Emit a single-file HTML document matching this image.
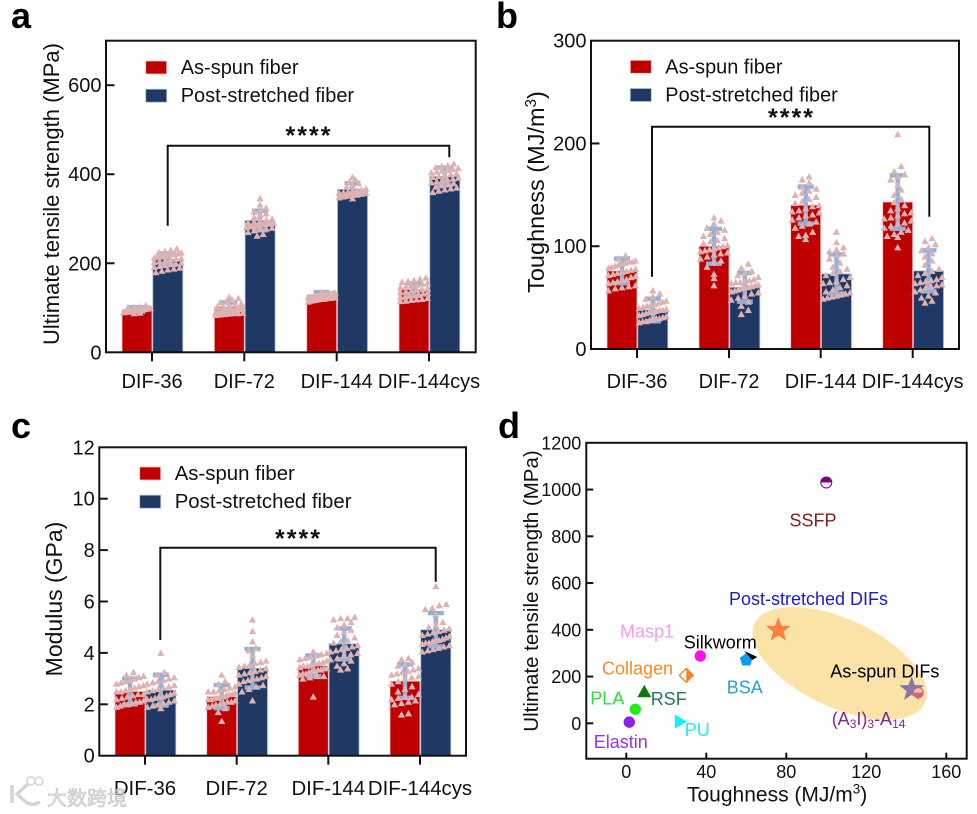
<!DOCTYPE html>
<html lang="en">
<head>
<meta charset="utf-8">
<title>Fiber mechanical properties</title>
<style>
html,body{margin:0;padding:0;background:#fff;}
svg{display:block;font-family:"Liberation Sans","Noto Sans CJK SC",sans-serif;}
</style>
</head>
<body>
<svg id="figure" width="977" height="814" viewBox="0 0 977 814" xmlns="http://www.w3.org/2000/svg"></svg>
<script>
// Shared categories and legend
const categories = ['DIF-36', 'DIF-72', 'DIF-144', 'DIF-144cys'];
const seriesNames = ['As-spun fiber', 'Post-stretched fiber'];

// Panel a: ultimate tensile strength (MPa)
const strengthTicks = [0, 200, 400, 600];
const strengthAsSpun = [96, 102, 129, 141];
const strengthPost = [209, 296, 366, 395];
const strengthAsSpunErr = [5, 10, 6, 14];
const strengthPostErr = [13, 22, 14, 20];
const strengthAsSpunPoints = [
  [88,89,90,90,91,91,92,92,93,93,93,94,94,95,95,95,96,96,96,97,97,98,98,99,99,100,101,102,103,106],
  [84,85,86,87,88,88,89,90,90,91,92,93,93,94,95,95,96,97,98,100,102,104,106,108,110,112,115,118,122,124],
  [114,116,117,118,119,120,120,121,122,122,123,123,124,124,125,125,126,126,127,127,128,128,129,130,130,131,132,133,134,136],
  [115,116,118,119,120,122,124,125,127,128,130,132,134,135,137,139,140,142,144,146,148,150,152,154,156,158,160,162,165,168]
];
const strengthPostPoints = [
  [180,183,186,188,190,192,194,196,198,199,201,203,205,206,208,210,212,213,215,216,218,219,220,221,222,224,225,227,230,233],
  [262,266,270,274,276,278,280,281,283,284,285,286,287,288,289,290,291,292,294,296,298,300,304,308,312,316,320,325,332,346],
  [346,348,350,350,351,352,352,353,354,354,355,355,356,356,357,358,358,359,360,361,362,364,366,368,372,376,380,384,388,394],
  [360,363,366,368,370,372,375,378,380,382,384,386,388,390,392,394,396,398,400,402,404,406,408,410,412,414,416,418,420,424]
];

// Panel b: toughness (MJ/m3)
const toughnessTicks = [0, 100, 200, 300];
const toughnessAsSpun = [76, 100, 140, 143];
const toughnessPost = [38, 60, 73, 76];
const toughnessAsSpunErr = [12, 17, 18, 26];
const toughnessPostErr = [11, 14, 19, 20];
const toughnessAsSpunPoints = [
  [57,59,60,61,62,64,65,66,67,68,70,71,72,73,74,75,76,77,78,79,80,81,82,83,84,85,85,86,88,91],
  [62,69,73,80,84,86,88,90,92,93,94,95,96,97,98,99,100,101,103,105,106,108,110,112,114,116,118,122,125,128],
  [107,110,111,114,118,120,122,124,126,128,130,131,133,134,135,137,139,140,142,144,146,148,150,152,154,156,158,162,165,168],
  [99,109,110,112,114,116,118,120,122,123,125,127,128,130,132,133,135,137,140,143,146,150,155,160,165,168,170,173,178,209]
];
const toughnessPostPoints = [
  [26,27,27,28,29,30,30,31,32,33,34,35,36,36,37,38,38,39,40,41,42,43,44,45,46,47,49,51,54,57],
  [34,38,42,46,48,50,52,54,55,56,57,58,59,60,60,61,62,63,64,65,65,66,67,68,70,72,74,76,79,83],
  [49,50,51,52,53,54,55,56,58,60,62,64,65,66,68,70,72,74,76,78,80,84,88,91,93,95,97,99,104,114],
  [45,47,50,52,55,56,58,60,61,62,63,64,65,66,67,68,70,72,74,76,78,82,86,90,93,96,99,102,105,108]
];

// Panel c: modulus (GPa)
const modulusTicks = [0, 2, 4, 6, 8, 10, 12];
const modulusAsSpun = [2.5, 2.3, 3.5, 2.9];
const modulusPost = [2.55, 3.4, 4.35, 4.9];
const modulusAsSpunErr = [0.5, 0.45, 0.4, 0.65];
const modulusPostErr = [0.6, 0.75, 0.6, 0.65];
const modulusAsSpunPoints = [
  [1.9,1.95,2,2,2.05,2.1,2.1,2.15,2.2,2.25,2.3,2.35,2.4,2.4,2.5,2.5,2.55,2.6,2.65,2.7,2.75,2.8,2.85,2.9,2.95,3,3.05,3.1,3.15,3.25],
  [1.35,1.7,1.85,1.9,1.95,2,2,2.05,2.1,2.1,2.15,2.2,2.2,2.25,2.25,2.3,2.3,2.35,2.4,2.4,2.45,2.5,2.5,2.55,2.6,2.65,2.7,2.8,2.9,3.15],
  [2.3,3,3.05,3.1,3.1,3.15,3.2,3.2,3.25,3.3,3.3,3.35,3.35,3.4,3.4,3.45,3.5,3.5,3.55,3.6,3.6,3.65,3.7,3.75,3.8,3.85,3.9,3.95,4,4.05],
  [1.6,1.65,2,2.05,2.1,2.15,2.2,2.25,2.3,2.3,2.4,2.5,2.6,2.7,2.8,2.9,3,3.05,3.1,3.15,3.2,3.25,3.3,3.35,3.4,3.5,3.55,3.65,3.75,3.8]
];
const modulusPostPoints = [
  [1.85,1.9,1.95,2,2.05,2.1,2.15,2.2,2.2,2.25,2.3,2.3,2.35,2.4,2.45,2.5,2.55,2.6,2.65,2.7,2.75,2.8,2.85,2.9,2.95,3,3.05,3.15,3.25,4],
  [2.15,2.5,2.6,2.7,2.75,2.8,2.9,2.95,3,3,3.05,3.1,3.15,3.2,3.25,3.3,3.35,3.4,3.45,3.5,3.55,3.6,3.65,3.7,3.9,4.1,4.2,4.45,4.85,5.3],
  [3.35,3.4,3.5,3.6,3.7,3.75,3.8,3.9,3.95,4,4.05,4.1,4.15,4.2,4.25,4.3,4.4,4.45,4.5,4.6,4.7,4.8,4.9,5,5.1,5.2,5.3,5.35,5.35,5.4],
  [4.05,4.1,4.15,4.2,4.25,4.3,4.35,4.4,4.4,4.45,4.5,4.5,4.55,4.6,4.65,4.7,4.75,4.8,4.85,4.9,4.95,5,5.1,5.2,5.5,5.7,5.75,5.85,5.9,6.6]
];

// Panel d: strength vs toughness of materials
const materialNames = ['SSFP', 'As-spun DIFs', 'Post-stretched DIFs', 'A3I3-A14', 'Masp1', 'Collagen', 'BSA', 'Silkworm', 'RSF', 'PLA', 'Elastin', 'PU'];
const materialToughness = [100, 142.7, 76, 146, 37, 30, 60, 62, 9, 4.5, 1.5, 27];
const materialStrength = [1030, 145, 399, 131, 288, 205, 271, 288, 135, 60, 5, 7];
const scatterXTicks = [0, 40, 80, 120, 160];
const scatterYTicks = [0, 200, 400, 600, 800, 1000, 1200];

const NS = 'http://www.w3.org/2000/svg';
const root = document.getElementById('figure');

function mk(tag, parent, props) {
  const el = document.createElementNS(NS, tag);
  for (const k in props) el.setAttribute(k, props[k]);
  parent.appendChild(el);
  return el;
}

function label(parent, str, x, y, size, props) {
  const el = mk('text', parent, Object.assign({x: x, y: y, 'font-size': size, fill: '#111'}, props || {}));
  el.textContent = str;
  return el;
}

function triangle(cx, cy, s) {
  return 'M' + (cx - s).toFixed(2) + ' ' + (cy + s * 0.85).toFixed(2) +
    'L' + cx.toFixed(2) + ' ' + (cy - s * 0.95).toFixed(2) +
    'L' + (cx + s).toFixed(2) + ' ' + (cy + s * 0.85).toFixed(2) + 'Z';
}

// Prism-style swarm: points are grouped in pixel rows and spread symmetrically
function swarmOffsets(pixelYs, halfWidth, rowH, maxStep) {
  const rows = {};
  pixelYs.forEach(function (py, i) {
    const r = Math.round(py / rowH);
    (rows[r] = rows[r] || []).push(i);
  });
  const out = new Array(pixelYs.length).fill(0);
  Object.keys(rows).forEach(function (r) {
    const list = rows[r];
    const step = Math.min(maxStep, list.length > 1 ? (2 * halfWidth) / (list.length - 1) : 0);
    list.forEach(function (idx, j) {
      out[idx] = (j - (list.length - 1) / 2) * step;
    });
  });
  return out;
}

function drawBarPanel(cfg) {
  const g = mk('g', root, {});
  
  
  const sy = function (v) { return cfg.bottom - (v / cfg.yMax) * (cfg.bottom - cfg.top); };
  const barW = 30;

  const series = [
    {values: cfg.asSpun, err: cfg.asSpunErr, pts: cfg.asSpunPts, fill: '#BF0000', edge: '#F6C9C9', x0: -barW, key: 'as-spun'},
    {values: cfg.post, err: cfg.postErr, pts: cfg.postPts, fill: '#1F3864', edge: '#A9BEDD', x0: 0.8, key: 'post-stretched'}
  ];

  series.forEach(function (s) {
    s.values.forEach(function (v, i) {
      const bar = mk('rect', g, {x: cfg.groups[i] + s.x0, y: sy(v), width: barW, height: cfg.bottom - sy(v), fill: s.fill, stroke: s.edge, 'stroke-width': 0.8});
      
      
    });
  });

  series.forEach(function (s) {
    s.values.forEach(function (v, i) {
      const cx = cfg.groups[i] + s.x0 + barW / 2;
      const e = mk('path', g, {
        d: 'M' + cx + ' ' + sy(v + s.err[i]) + 'V' + sy(v - s.err[i]) +
           'M' + (cx - 8) + ' ' + sy(v + s.err[i]) + 'H' + (cx + 8) +
           'M' + (cx - 8) + ' ' + sy(v - s.err[i]) + 'H' + (cx + 8),
        fill: 'none', stroke: '#8FB0DC', 'stroke-width': 4.4
      });
      
      

      const ys = s.pts[i].map(sy);
      const offs = swarmOffsets(ys, 13.5, cfg.rowH, cfg.maxStep);
      let d = '';
      ys.forEach(function (py, k) { d += triangle(cx + offs[k], py, 3.6); });
      const p = mk('path', g, {d: d, fill: '#DDB2B2'});
      
      
    });
  });

  const frame = mk('rect', g, {x: cfg.left, y: cfg.top, width: cfg.right - cfg.left, height: cfg.bottom - cfg.top, fill: 'none', stroke: '#111', 'stroke-width': 2});
  
  

  cfg.ticks.forEach(function (t) {
    const y = sy(t);
    if (t !== cfg.yMax && t !== 0) {
      const tick = mk('line', g, {x1: cfg.left, x2: cfg.left + 8.5, y1: y, y2: y, stroke: '#111', 'stroke-width': 2});
      
      
    }
    const tl = label(g, String(t), cfg.left - 4.5, y + 7, cfg.tickSize, {'text-anchor': 'end'});
    
    
  });

  categories.forEach(function (c, i) {
    const tick = mk('line', g, {x1: cfg.groups[i], x2: cfg.groups[i], y1: cfg.bottom, y2: cfg.bottom + 9, stroke: '#111', 'stroke-width': 2});
    
    
    const tl = label(g, c, cfg.groups[i], cfg.xLabelY, cfg.textSize, {'text-anchor': 'middle'});
    
    
  });

  const title = label(g, cfg.titleText, 0, 0, cfg.titleSize, {'text-anchor': 'middle', transform: 'translate(' + cfg.titleX + ' ' + cfg.titleY + ') rotate(-90)'});
  
  
  if (cfg.titleSup) {
    const sup = mk('tspan', title, {dy: -8, 'font-size': cfg.titleSize * 0.65});
    sup.textContent = cfg.titleSup;
    const close = mk('tspan', title, {dy: 8});
    close.textContent = ')';
  }

  seriesNames.forEach(function (n, i) {
    const sw = mk('rect', g, {x: cfg.legendX, y: cfg.legendY + i * 28.2, width: 21, height: 13, fill: series[i].fill, stroke: series[i].edge, 'stroke-width': 0.8});
    
    
    const lt = label(g, n, cfg.legendX + 35, cfg.legendY + 13 + i * 28.2, cfg.textSize);
    
    
  });

  const b = cfg.bracket;
  const br = mk('path', g, {d: 'M' + b.x1 + ' ' + b.y1 + 'V' + b.top + 'H' + b.x2 + 'V' + b.y2, fill: 'none', stroke: '#111', 'stroke-width': 2});
  
  
  const st = label(g, '****', b.starX, b.starY, 25, {'text-anchor': 'middle', 'font-weight': 'bold', 'letter-spacing': 2});
  
  

  const pl = label(g, cfg.letter, cfg.letterX, cfg.letterY, 36, {'font-weight': 'bold', fill: '#000'});
  
  
}

drawBarPanel({
  name: 'panel-a', letter: 'a', letterX: 11, letterY: 28,
  left: 106, right: 475.7, top: 40.7, bottom: 352.3, yMax: 700,
  groups: [152, 244.3, 336.7, 429], ticks: strengthTicks, tickSize: 20, textSize: 20, xLabelY: 388,
  rowH: 5, maxStep: 6,
  asSpun: strengthAsSpun, post: strengthPost, asSpunErr: strengthAsSpunErr, postErr: strengthPostErr,
  asSpunPts: strengthAsSpunPoints, postPts: strengthPostPoints,
  titleText: 'Ultimate tensile strength (MPa)', titleSize: 22, titleX: 59, titleY: 194,
  legendX: 145.7, legendY: 61,
  bracket: {x1: 167.7, x2: 449.3, top: 145.7, y1: 225.7, y2: 157.3, starX: 309, starY: 144}
});

drawBarPanel({
  name: 'panel-b', letter: 'b', letterX: 496, letterY: 28,
  left: 591, right: 959, top: 40.7, bottom: 349, yMax: 300,
  groups: [637, 729, 820.7, 912.7], ticks: toughnessTicks, tickSize: 20, textSize: 19.9, xLabelY: 388,
  rowH: 8, maxStep: 7,
  asSpun: toughnessAsSpun, post: toughnessPost, asSpunErr: toughnessAsSpunErr, postErr: toughnessPostErr,
  asSpunPts: toughnessAsSpunPoints, postPts: toughnessPostPoints,
  titleText: 'Toughness (MJ/m', titleSup: '3', titleSize: 23.5, titleX: 544, titleY: 192,
  legendX: 630.3, legendY: 60.3,
  bracket: {x1: 652, x2: 929.3, top: 126.7, y1: 276.7, y2: 216.7, starX: 791.5, starY: 126}
});

drawBarPanel({
  name: 'panel-c', letter: 'c', letterX: 11, letterY: 438,
  left: 99.3, right: 466, top: 447.3, bottom: 755.7, yMax: 12,
  groups: [145, 236.7, 328.3, 420], ticks: modulusTicks, tickSize: 20, textSize: 20.4, xLabelY: 795,
  rowH: 8, maxStep: 7,
  asSpun: modulusAsSpun, post: modulusPost, asSpunErr: modulusAsSpunErr, postErr: modulusPostErr,
  asSpunPts: modulusAsSpunPoints, postPts: modulusPostPoints,
  titleText: 'Modulus (GPa)', titleSize: 23, titleX: 62, titleY: 599,
  legendX: 139.7, legendY: 467,
  bracket: {x1: 160.3, x2: 435.7, top: 547.7, y1: 640, y2: 581.7, starX: 298.5, starY: 547}
});

// Panel d
(function () {
  const L = 586.3, R = 966.7, T = 442.8, B = 758.7;
  const sx = function (v) { return 626.3 + v * 2; };
  const sy = function (v) { return 723.3 - v * 0.23375; };
  const g = mk('g', root, {});
  
  

  const ell = mk('ellipse', g, {cx: 839.7, cy: 663.3, rx: 94, ry: 44, fill: '#FBE2A6', transform: 'rotate(25 839.7 663.3)'});
  
  

  const frame = mk('rect', g, {x: L, y: T, width: R - L, height: B - T, fill: 'none', stroke: '#111', 'stroke-width': 2});
  
  

  scatterYTicks.forEach(function (t) {
    const y = sy(t);
    if (t !== 1200) {
      const tick = mk('line', g, {x1: L, x2: L + 7, y1: y, y2: y, stroke: '#111', 'stroke-width': 2});
      
      
    }
    const tl = label(g, String(t), L - 5, y + 6.5, 18, {'text-anchor': 'end'});
    
    
  });
  scatterXTicks.forEach(function (t) {
    const x = sx(t);
    const tick = mk('line', g, {x1: x, x2: x, y1: B, y2: B - 6, stroke: '#111', 'stroke-width': 2});
    
    
    const tl = label(g, String(t), x, 778, 18, {'text-anchor': 'middle'});
    
    
  });

  function star(cx, cy, r) {
    let d = '';
    for (let i = 0; i < 10; i++) {
      const rad = i % 2 ? r * 0.42 : r;
      const a = -Math.PI / 2 + i * Math.PI / 5;
      d += (i ? 'L' : 'M') + (cx + rad * Math.cos(a)).toFixed(2) + ' ' + (cy + rad * Math.sin(a)).toFixed(2);
    }
    return d + 'Z';
  }

  materialNames.forEach(function (name, i) {
    const x = sx(materialToughness[i]);
    const y = sy(materialStrength[i]);
    const m = mk('g', g, {});
    
    
    if (name === 'SSFP') {
      mk('circle', m, {cx: x, cy: y, r: 5.5, fill: '#fff', stroke: '#800080', 'stroke-width': 1});
      mk('path', m, {d: 'M' + (x - 5.5) + ' ' + y + 'A5.5 5.5 0 0 1 ' + (x + 5.5) + ' ' + y + 'Z', fill: '#800080'});
    } else if (name === 'A3I3-A14') {
      mk('circle', m, {cx: x, cy: y, r: 5, fill: '#F2C0B0', stroke: '#D8607A', 'stroke-width': 1});
      mk('path', m, {d: 'M' + (x - 5) + ' ' + y + 'A5 5 0 0 0 ' + (x + 5) + ' ' + y + 'Z', fill: '#D8607A'});
    } else if (name === 'As-spun DIFs') {
      mk('path', m, {d: star(x, y, 13), fill: '#8578A8'});
    } else if (name === 'Post-stretched DIFs') {
      mk('path', m, {d: star(x, y, 13), fill: '#FF7F3F'});
    } else if (name === 'Masp1') {
      mk('circle', m, {cx: x, cy: y, r: 5.7, fill: '#FF10E8'});
    } else if (name === 'PLA') {
      mk('circle', m, {cx: x, cy: y, r: 5.7, fill: '#19F019'});
    } else if (name === 'Elastin') {
      mk('circle', m, {cx: x, cy: y, r: 5.7, fill: '#8A22EE'});
    } else if (name === 'Collagen') {
      mk('path', m, {d: 'M' + x + ' ' + (y - 7) + 'L' + (x + 7) + ' ' + y + 'L' + x + ' ' + (y + 7) + 'L' + (x - 7) + ' ' + y + 'Z', fill: '#fff', stroke: '#F58220', 'stroke-width': 1.3});
      mk('path', m, {d: 'M' + x + ' ' + (y - 7) + 'L' + (x + 7) + ' ' + y + 'L' + x + ' ' + (y + 7) + 'Z', fill: '#F58220'});
    } else if (name === 'BSA') {
      const pts = [];
      for (let k = 0; k < 5; k++) {
        const a = -Math.PI / 2 + k * 2 * Math.PI / 5;
        pts.push((x + 6.8 * Math.cos(a)).toFixed(2) + ',' + (y + 6.8 * Math.sin(a)).toFixed(2));
      }
      mk('polygon', m, {points: pts.join(' '), fill: '#0A9BF2'});
    } else if (name === 'Silkworm') {
      mk('path', m, {d: 'M' + (x - 6) + ' ' + (y - 5) + 'L' + (x + 7) + ' ' + (y + 1) + 'L' + (x + 2) + ' ' + (y + 4) + 'Z', fill: '#000'});
    } else if (name === 'RSF') {
      mk('path', m, {d: 'M' + (x - 7) + ' ' + (y + 5.5) + 'L' + x + ' ' + (y - 7) + 'L' + (x + 7) + ' ' + (y + 5.5) + 'Z', fill: '#0B7A12'});
    } else if (name === 'PU') {
      mk('path', m, {d: 'M' + (x - 5.5) + ' ' + (y - 7) + 'L' + (x + 7) + ' ' + y + 'L' + (x - 5.5) + ' ' + (y + 7) + 'Z', fill: '#10F0F8'});
    }
  });

  function tag(text, x, y, color) {
    const t = label(g, text, x, y, 18, {fill: color});
    
    
    return t;
  }
  tag('Post-stretched DIFs', 729, 605, '#1A1AD0');
  tag('SSFP', 789.5, 526.7, '#8B1A1A');
  tag('Masp1', 620, 637.7, '#F59BF0');
  tag('Silkworm', 683.7, 648.7, '#000');
  tag('Collagen', 602, 674.3, '#F58A2A');
  tag('PLA', 590.3, 704.3, '#2EE03A');
  tag('RSF', 650.7, 705, '#1F7A5C');
  tag('BSA', 726.7, 693.3, '#2A9FE0');
  tag('PU', 684.7, 736, '#22E8F0');
  tag('Elastin', 593.7, 748, '#9A30E8');
  tag('As-spun DIFs', 830.3, 677.7, '#000');

  const peptide = label(g, '(A', 831.7, 725, 18, {fill: '#7A2A90'});
  
  
  [['3', 3], ['I)', -3], ['3', 3], ['-A', -3], ['14', 3]].forEach(function (part) {
    const ts = mk('tspan', peptide, {dy: part[1], 'font-size': part[1] > 0 ? 12 : 18});
    ts.textContent = part[0];
  });

  const yt = label(g, 'Ultimate tensile strength (MPa)', 0, 0, 20.5, {'text-anchor': 'middle', transform: 'translate(538 591) rotate(-90)'});
  
  

  const xt = label(g, 'Toughness (MJ/m', 687, 801.7, 21);
  
  
  const sup = mk('tspan', xt, {dy: -8, 'font-size': 13.5});
  sup.textContent = '3';
  const close = mk('tspan', xt, {dy: 8});
  close.textContent = ')';

  const pl = label(g, 'd', 498, 438, 36, {'font-weight': 'bold', fill: '#000'});
  
  
})();

// Watermark
(function () {
  const g = mk('g', root, {opacity: 0.9});
  
  
  mk('path', g, {d: 'M12 785V803M28 784L17 794L27 803Q33 806 40 802', fill: 'none', stroke: '#d0d0d0', 'stroke-width': 3.5});
  mk('circle', g, {cx: 31, cy: 781, r: 4, fill: 'none', stroke: '#d0d0d0', 'stroke-width': 1.5});
  mk('circle', g, {cx: 39, cy: 781, r: 4, fill: 'none', stroke: '#d0d0d0', 'stroke-width': 1.5});
  const t = label(g, '大数跨境', 47, 805, 20, {fill: '#dcdcdc', stroke: '#bdbdbd', 'stroke-width': 0.6, 'font-family': '"Noto Sans CJK SC", sans-serif'});
  
  
})();
</script>
</body>
</html>
